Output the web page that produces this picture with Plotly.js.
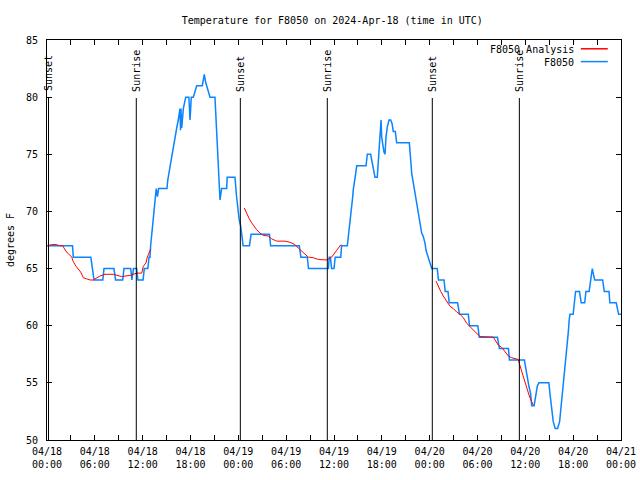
<!DOCTYPE html>
<html>
<head>
<meta charset="utf-8">
<script src="https://cdn.plot.ly/plotly-3.0.1.min.js"></script>
<style>
html,body{margin:0;padding:0;background:#fff;}
#chart{width:640px;height:480px;}
</style>
</head>
<body>
<div id="chart"></div>
<script>
// Hours since 2024-04-18 00:00 UTC
const obsHours = [0.0,3.2,3.3,5.5,5.7,5.9,7.0,7.15,8.4,8.6,9.5,9.65,10.5,10.65,10.85,11.25,11.4,12.05,12.2,12.65,12.8,12.92,13.0,13.15,13.3,13.45,13.6,13.7,13.85,14.0,15.05,15.15,15.43,15.84,16.05,16.27,16.47,16.68,16.75,16.8,16.9,17.1,17.4,17.8,17.94,18.1,18.35,18.6,18.78,19.48,19.6,19.73,19.9,20.03,20.2,20.45,21.07,21.2,21.35,21.45,21.6,21.7,21.9,22.54,22.6,23.58,23.75,23.95,24.1,24.3,24.45,24.6,25.4,25.6,27.9,28.05,31.65,31.85,32.65,32.8,35.3,35.4,35.55,35.7,36.0,36.15,36.85,36.95,37.67,37.8,38.0,38.13,38.22,38.35,38.42,38.55,38.72,38.85,40.02,40.18,40.6,40.73,40.93,41.14,41.43,41.56,41.68,41.77,41.9,41.98,42.1,42.27,42.4,42.52,42.69,42.9,43.11,43.28,43.44,43.69,43.86,45.45,45.62,45.75,45.95,46.16,46.37,46.58,46.79,47.0,47.2,47.42,47.54,47.83,48.04,48.26,48.95,49.1,49.8,49.95,50.3,50.45,51.5,51.75,52.85,52.99,54.04,54.22,56.5,56.75,57.88,58.0,59.88,60.1,60.3,60.45,60.65,60.8,61.1,61.3,61.5,61.7,62.95,63.1,63.3,63.5,63.75,64.05,64.3,64.45,64.6,64.8,65.0,65.2,65.4,65.5,65.6,66.0,66.15,66.3,66.8,66.9,67.0,67.45,67.6,68.0,68.15,68.3,68.4,68.55,68.7,69.7,69.9,70.5,70.6,71.4,71.55,71.7,72.0];
const obsTemps = [67,67,66,66,65,64,64,65,65,64,64,65,65,64,65,65,64,64,65,65,66,66,67,68,69,70,71,72,71.3,72,72,72.75,73.9,75.7,76.5,77.3,78,79,77.1,79,77.3,79,80,80,78,80,80,80.6,81,81,81.5,82,81.3,81,80.5,80,80,78,75.7,73.6,72,71,72,72,73,73,71.5,70,69.3,68.7,68,67,67,68,68,67,67,66,66,65,65,66,66,65,65,66,66,67,67,67.8,69,69.5,70.6,71.3,71.9,72.75,73.3,74,74,75,75,74.5,73.8,73,73,74.4,75.5,76.25,78,76.5,75.8,75.2,75,76.5,77.4,78,78,77.7,77,77,76,76,74.5,73.3,72.5,71.6,70.7,69.5,68.7,68.1,67.8,67.2,66.6,66,65.6,65,65,64,64,63,63,62,62,61,61,60,60,59,59,58,58,57,57,56,55.5,54.7,54.1,53,53,54.1,54.7,55,55,54,52.6,51.6,51,51,51.6,52.6,53.8,55,56.4,57.9,59.5,60.5,61,61,62,63,63,62.5,62,62,63,63,63.7,64.6,65,64.5,64,64,63,63,62,62,61.5,61,61];

const anaHours = [0.1,0.59,1.13,1.55,1.97,2.38,2.68,3.1,3.3,3.64,4.22,4.56,4.98,5.4,5.8,6.23,6.65,7.28,8.3,9.37,10.4,11.25,11.88,12.08,12.42,12.58,12.8,13.0,null,
  24.75,25.05,25.34,25.68,25.97,26.3,26.72,27.13,27.76,28.19,28.81,29.85,30.48,31.1,31.52,31.95,32.36,32.78,33.4,34.03,35.08,35.7,36.34,36.88,null,
  48.8,49.08,49.39,49.71,50.14,50.55,50.97,51.39,51.81,52.22,52.65,53.06,53.48,53.9,54.31,55.98,56.2,56.61,57.04,57.45,57.87,58.29,58.92,59.12,59.24,59.54,59.96,60.25,60.5,60.8,61.0];
const anaTemps = [67,67.1,67.1,67,67,66.5,66.3,66,65.6,65.2,64.7,64.2,64.1,64,64,64.2,64.35,64.5,64.5,64.3,64.4,64.6,64.6,65.2,65.5,66,66.3,66.7,null,
  70.3,69.8,69.4,69,68.7,68.4,68.1,67.9,67.85,67.6,67.4,67.4,67.3,67.1,66.8,66.5,66.3,66,65.95,65.8,65.75,66,66.6,67.1,null,
  63.9,63.4,63,62.6,62.1,61.7,61.5,61.2,61,60.7,60.2,59.9,59.6,59.3,59.05,59,58.75,58.3,58.1,57.7,57.35,57.2,57.1,57.05,56.7,56,55.25,54.5,53.85,53.35,53.06];

const sunHours = [0.19, 11.2, 24.25, 35.16, 48.33, 59.25];
const sunLabels = ['Sunset','Sunrise','Sunset','Sunrise','Sunset','Sunrise'];

const tickHours = [0,6,12,18,24,30,36,42,48,54,60,66,72];
const tickLabels = ['04/18<br>00:00','04/18<br>06:00','04/18<br>12:00','04/18<br>18:00','04/19<br>00:00','04/19<br>06:00','04/19<br>12:00','04/19<br>18:00','04/20<br>00:00','04/20<br>06:00','04/20<br>12:00','04/20<br>18:00','04/21<br>00:00'];
const yTicks = [50,55,60,65,70,75,80,85];

const seriesNames = ['F8050 Analysis','F8050'];
const seriesColors = ['#ff0000','#0a84ff'];

const t0 = Date.UTC(2024,3,18,0,0,0);
function toDate(h){
  if(h===null) return null;
  const d = new Date(t0 + h*3600000);
  return d.toISOString().slice(0,19).replace('T',' ');
}

const FONT = 'DejaVu Sans Mono, Liberation Mono, monospace';

const traces = [
  {x: obsHours.map(toDate), y: obsTemps, type:'scatter', mode:'lines', name: seriesNames[1],
   line:{color: seriesColors[1], width:1.5}, connectgaps:false},
  {x: anaHours.map(toDate), y: anaTemps, type:'scatter', mode:'lines', name: seriesNames[0],
   line:{color: seriesColors[0], width:1}, connectgaps:false}
];

const shapes = [];
const annotations = [];
sunHours.forEach((h,i)=>{
  shapes.push({type:'line', xref:'x', yref:'paper', x0:toDate(h), x1:toDate(h), y0:0, y1:0.855,
    line:{color:'#000', width:1}});
  annotations.push({x:toDate(h), xref:'x', y:0.866, yref:'paper', yanchor:'bottom', xanchor:'center',
    text:sunLabels[i], textangle:-90, showarrow:false, font:{family:FONT, size:10, color:'#000'}});
});
// legend, drawn gnuplot-style (text right, sample to the right)
const legY = [0.976, 0.944];
seriesNames.forEach((n,i)=>{
  annotations.push({x:0.9215, xref:'paper', y:legY[i], yref:'paper', xanchor:'right', yanchor:'middle',
    text:n, showarrow:false, font:{family:FONT, size:10, color:'#000'}});
  shapes.push({type:'line', xref:'paper', yref:'paper', x0:0.930, x1:0.977, y0:legY[i]+0.002, y1:legY[i]+0.002,
    line:{color:seriesColors[i], width:1.5}});
});

const layout = {
  width:640, height:480,
  margin:{l:47, r:19, t:40, b:40},
  paper_bgcolor:'#fff', plot_bgcolor:'#fff',
  showlegend:false,
  font:{family:FONT, size:10, color:'#000'},
  title:{text:'Temperature for F8050 on 2024-Apr-18 (time in UTC)', x:0.497, xref:'paper', y:0.958, yref:'container', yanchor:'middle',
    font:{family:FONT, size:10, color:'#000'}},
  xaxis:{type:'date', range:[toDate(0), toDate(72)], tickvals: tickHours.map(toDate), ticktext: tickLabels,
    ticks:'inside', ticklen:5, tickcolor:'#000', showline:true, linecolor:'#000', linewidth:1, mirror:'ticks',
    showgrid:false, zeroline:false, tickangle:0, ticklabelstandoff:2,
    minor:{dtick:3*3600000, ticks:'inside', ticklen:5, tickcolor:'#000', showgrid:false},
    tickfont:{family:FONT, size:10, color:'#000'}},
  yaxis:{range:[50,85], tickvals:yTicks, ticks:'inside', ticklen:5, tickcolor:'#000', showline:true, linecolor:'#000',
    linewidth:1, mirror:'ticks', showgrid:false, zeroline:false, ticklabelstandoff:6,
    tickfont:{family:FONT, size:10, color:'#000'},
    title:{text:'degrees F', standoff:9, font:{family:FONT, size:10, color:'#000'}}},
  shapes: shapes,
  annotations: annotations
};

Plotly.newPlot('chart', traces, layout, {displayModeBar:false, staticPlot:true});
</script>
</body>
</html>
